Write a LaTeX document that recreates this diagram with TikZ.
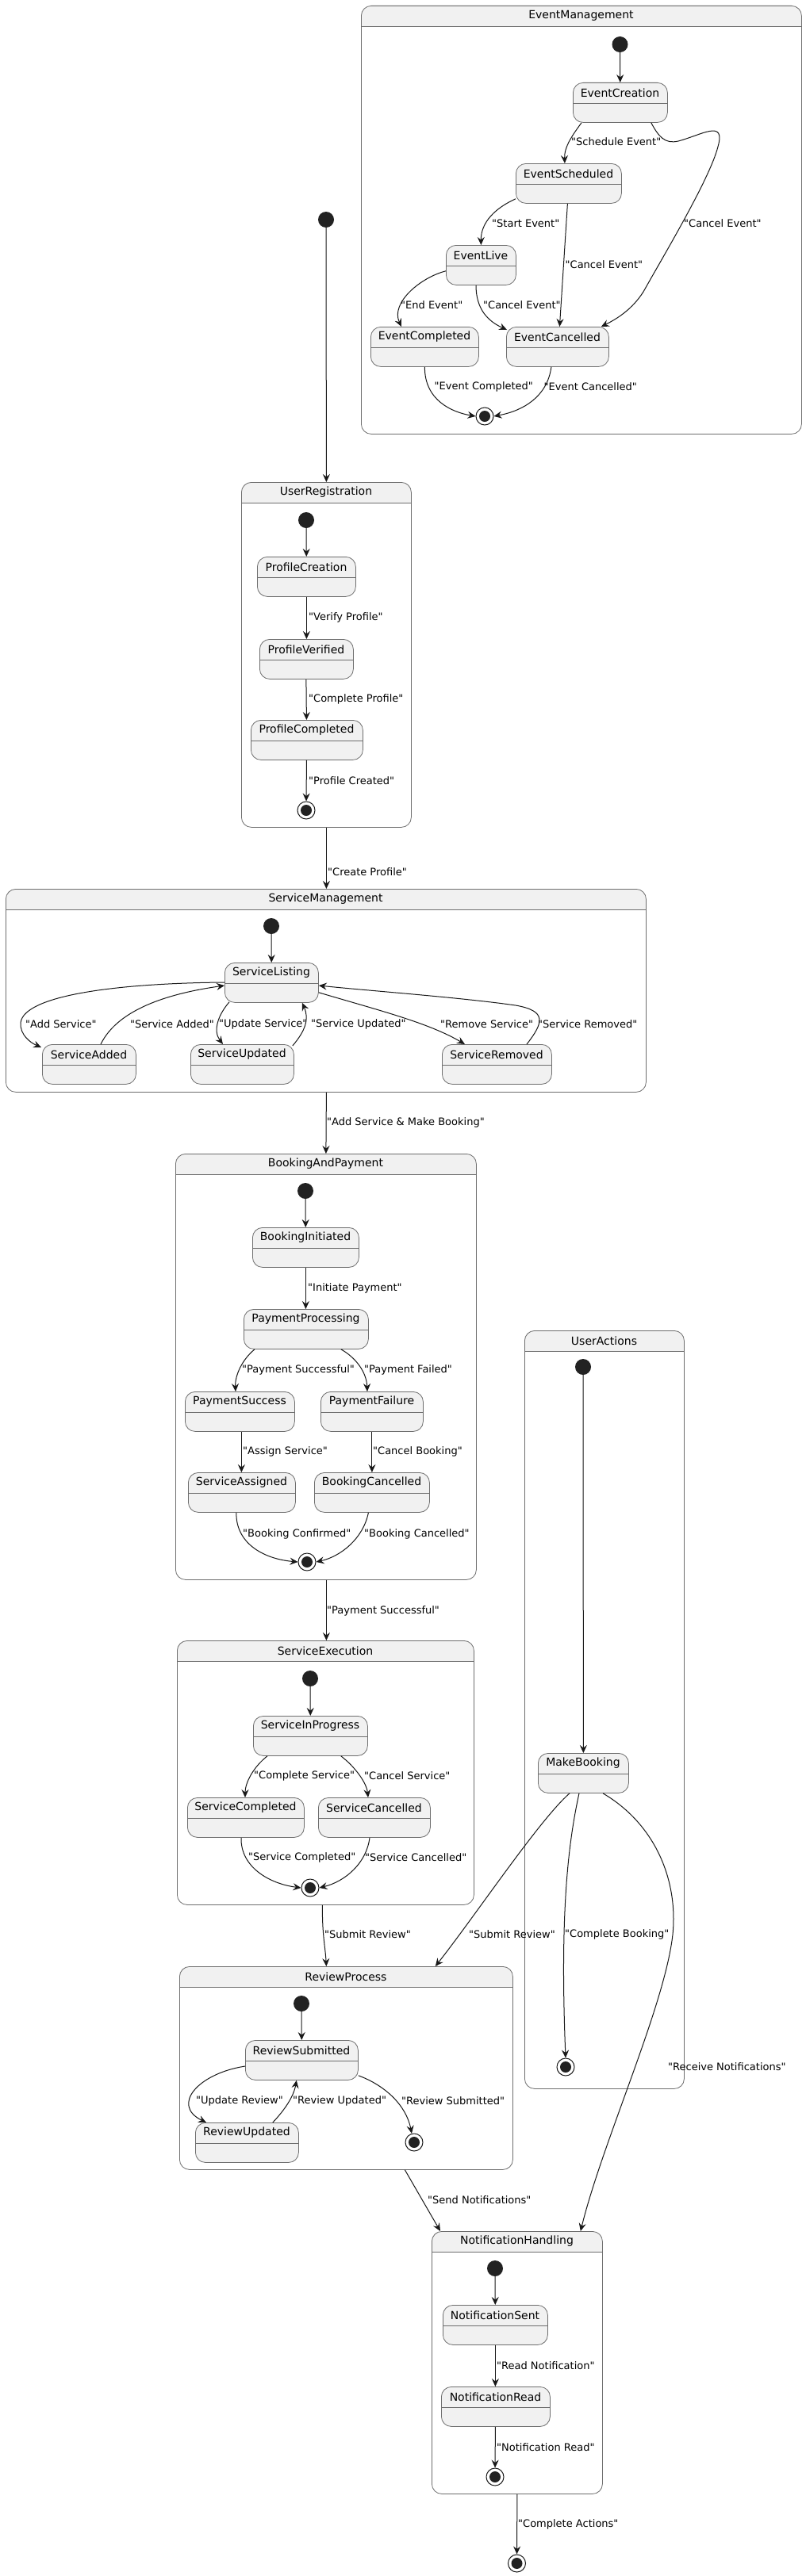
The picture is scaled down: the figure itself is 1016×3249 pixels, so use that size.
\documentclass[tikz,border=0pt]{standalone}
\usepackage{fontspec}
\newfontfamily\dv{DejaVu Sans}
\usetikzlibrary{arrows.meta}
\definecolor{arrc}{HTML}{181818}
\definecolor{bord}{HTML}{6E6E6E}
\definecolor{stfill}{HTML}{F1F1F1}
\definecolor{dotc}{HTML}{222222}
\tikzset{
 stbox/.style={draw=bord, fill=stfill, rounded corners=12.5pt, line width=0.8pt, inner sep=0pt, anchor=north west},
 compbox/.style={draw=bord, rounded corners=12.5pt, line width=0.8pt, inner sep=0pt, anchor=north west},
 divline/.style={draw=bord, line width=0.8pt},
 sttext/.style={font=\dv\fontsize{14}{16}\selectfont, inner sep=0pt},
 lbl/.style={font=\dv\fontsize{13}{15}\selectfont, anchor=west, inner sep=0pt},
 tr/.style={draw=arrc, line width=1pt, -{Stealth[length=10pt,width=9pt,inset=3.5pt]}},
 initdot/.style={circle, fill=dotc, minimum size=20pt, inner sep=0pt},
 finaldot/.style={circle, draw=arrc, fill=white, line width=1pt, minimum size=22pt, inner sep=0pt},
}
\newcommand\mystate[5]{%
 \node[stbox, minimum width={(#4)-(#2)}, minimum height=50] (#1) at (#2,#3) {};
 \draw[divline] (#2,#3+26) -- (#4,#3+26);
 \node[sttext] (#1-t) at ({((#2)+(#4))/2},#3+13) {#5};
}
\newcommand\mycomp[6]{%
 \fill[stfill, rounded corners=12.5pt] (#2,#3) rectangle (#4,#3+40);
 \fill[white] (#2-1,#3+26) rectangle (#4+1,#3+45);
 \node[compbox, minimum width={(#4)-(#2)}, minimum height={(#5)-(#3)}] (#1) at (#2,#3) {};
 \draw[divline] (#2,#3+26) -- (#4,#3+26);
 \node[sttext] (#1-t) at ({((#2)+(#4))/2},#3+13) {#6};
}
\newcommand\myfinal[3]{%
 \node[finaldot] (#1) at (#2,#3) {};
 \fill[dotc] (#1.center) circle (7pt);
}
\begin{document}
\begin{tikzpicture}[x=1pt,y=-1pt]
\useasboundingbox (0,0) rectangle (1016,3249);
\fill[white] (0,0) rectangle (1016,3249);

% ---------- composites ----------
\mycomp{EventManagement}{455}{7}{1010}{547}{EventManagement}
\mycomp{UserRegistration}{304}{608}{518}{1043}{UserRegistration}
\mycomp{ServiceManagement}{7}{1121}{814}{1377}{ServiceManagement}
\mycomp{BookingAndPayment}{221}{1455}{600}{1992}{BookingAndPayment}
\mycomp{UserActions}{661}{1678}{862}{2634}{UserActions}
\mycomp{ServiceExecution}{223}{2069}{597}{2402}{ServiceExecution}
\mycomp{ReviewProcess}{226}{2480}{646}{2736}{ReviewProcess}
\mycomp{NotificationHandling}{544}{2814}{759}{3145}{NotificationHandling}

% ---------- EventManagement ----------
\node[initdot] (EM-init) at (781.5,56) {};
\mystate{EventCreation}{722}{104}{841}{EventCreation}
\mystate{EventScheduled}{650}{206}{783}{EventScheduled}
\mystate{EventLive}{562}{309}{650}{EventLive}
\mystate{EventCompleted}{467}{412}{603}{EventCompleted}
\mystate{EventCancelled}{638}{412}{767}{EventCancelled}
\myfinal{EM-final}{611}{525}

\draw[tr] (EM-init) -- (EventCreation);
\draw[tr] ([xshift=11]EventCreation.south west) .. controls (722,170) and (711,185) .. ([xshift=-5]EventScheduled.north);
\draw[tr] ([xshift=-21]EventCreation.south east) .. controls (830,172) and (838,182) .. (855,178)
  .. controls (885,170) and (915,150) .. (905,185)
  .. controls (895,225) and (835,325) .. (811,368)
  .. controls (797,390) and (778,402) .. ([xshift=-10]EventCancelled.north east);
\draw[tr] ([yshift=6]EventScheduled.south west) .. controls (625,262) and (606,280) .. (EventLive.north);
\draw[tr] ([xshift=-1.5]EventScheduled.south) -- ([xshift=2.5]EventCancelled.north);
\draw[tr] ([yshift=18]EventLive.south west) .. controls (530,350) and (492,382) .. ([xshift=39]EventCompleted.north west);
\draw[tr] ([xshift=38]EventLive.south west) .. controls (600,390) and (615,405) .. ([xshift=1,yshift=-4]EventCancelled.north west);
\draw[tr] (EventCompleted.south) .. controls (535,505) and (570,520) .. (EM-final.west);
\draw[tr] ([xshift=-8]EventCancelled.south) .. controls (690,500) and (660,518) .. (EM-final.east);

\node[lbl] (l-em1) at (720,179) {"Schedule Event"};
\node[lbl] (l-em2) at (862,282) {"Cancel Event"};
\node[lbl] (l-em3) at (620,282) {"Start Event"};
\node[lbl] (l-em4) at (712.5,334) {"Cancel Event"};
\node[lbl] (l-em5) at (505,385) {"End Event"};
\node[lbl] (l-em6) at (609,385) {"Cancel Event"};
\node[lbl] (l-em7) at (547.5,488) {"Event Completed"};
\node[lbl] (l-em8) at (685.5,488) {"Event Cancelled"};

% ---------- top start ----------
\node[initdot] (top-init) at (411,277) {};
\draw[tr] (top-init) -- (UserRegistration.north);

% ---------- UserRegistration ----------
\node[initdot] (UR-init) at (386,656) {};
\mystate{ProfileCreation}{324}{702}{448}{ProfileCreation}
\mystate{ProfileVerified}{327}{806}{445}{ProfileVerified}
\mystate{ProfileCompleted}{316}{908}{457}{ProfileCompleted}
\myfinal{UR-final}{386}{1022}
\draw[tr] (UR-init) -- (ProfileCreation);
\draw[tr] (ProfileCreation) -- (ProfileVerified);
\draw[tr] ([xshift=-0.5]ProfileVerified.south) -- ([xshift=-0.5]ProfileCompleted.north);
\draw[tr] ([xshift=-0.5]ProfileCompleted.south) -- (UR-final);
\node[lbl] (l-ur1) at (389,779) {"Verify Profile"};
\node[lbl] (l-ur2) at (389,882) {"Complete Profile"};
\node[lbl] (l-ur3) at (389,985) {"Profile Created"};

\draw[tr] (UserRegistration.south) -- ([xshift=0.5]ServiceManagement.north);
\node[lbl] (l-cp) at (413,1100) {"Create Profile"};

% ---------- ServiceManagement ----------
\node[initdot] (SM-init) at (342,1168) {};
\mystate{ServiceListing}{283}{1214}{401}{ServiceListing}
\mystate{ServiceAdded}{53}{1317}{171}{ServiceAdded}
\mystate{ServiceUpdated}{240}{1317}{370}{ServiceUpdated}
\mystate{ServiceRemoved}{557}{1317}{695}{ServiceRemoved}
\draw[tr] (SM-init) -- (ServiceListing);
\draw[tr] ([yshift=-25]ServiceListing.north west) .. controls (150,1240) and (30,1255) .. (26,1290)
  .. controls (25,1305) and (38,1315) .. ([xshift=-1,yshift=-4]ServiceAdded.north west);
\draw[tr] ([xshift=74]ServiceAdded.north west) .. controls (150,1270) and (220,1252) .. ([yshift=-29]ServiceListing.north west);
\draw[tr] ([xshift=6,yshift=1]ServiceListing.south west) .. controls (275,1280) and (268,1300) .. ([xshift=41]ServiceUpdated.north west);
\draw[tr] ([xshift=-2,yshift=-2]ServiceUpdated.north east) .. controls (385,1300) and (390,1285) .. ([xshift=-21]ServiceListing.south east);
\draw[tr] ([yshift=13]ServiceListing.south east) .. controls (480,1275) and (540,1290) .. ([xshift=29]ServiceRemoved.north west);
\draw[tr] ([xshift=107]ServiceRemoved.north west) .. controls (685,1290) and (690,1275) .. (650,1268)
  .. controls (580,1258) and (470,1250) .. ([yshift=-29]ServiceListing.north east);
\node[lbl] (l-sm1) at (32,1292) {"Add Service"};
\node[lbl] (l-sm2) at (164,1292) {"Service Added"};
\node[lbl] (l-sm3) at (276,1292) {"Update Service"};
\node[lbl] (l-sm4) at (392,1292) {"Service Updated"};
\node[lbl] (l-sm5) at (555,1292) {"Remove Service"};
\node[lbl] (l-sm6) at (678,1292) {"Service Removed"};

\draw[tr] ([xshift=0.5]ServiceManagement.south) -- (BookingAndPayment.north);
\node[lbl] (l-asmb) at (412,1416) {"Add Service \& Make Booking"};

% ---------- BookingAndPayment ----------
\node[initdot] (BP-init) at (385,1502) {};
\mystate{BookingInitiated}{318}{1548}{452}{BookingInitiated}
\mystate{PaymentProcessing}{307}{1651}{464}{PaymentProcessing}
\mystate{PaymentSuccess}{233}{1755}{371}{PaymentSuccess}
\mystate{PaymentFailure}{404}{1755}{533}{PaymentFailure}
\mystate{ServiceAssigned}{237}{1857}{372}{ServiceAssigned}
\mystate{BookingCancelled}{396}{1857}{541}{BookingCancelled}
\myfinal{BP-final}{387}{1970}
\draw[tr] (BP-init) -- (BookingInitiated);
\draw[tr] (BookingInitiated.south) -- ([xshift=-0.5]PaymentProcessing.north);
\draw[tr] ([xshift=14]PaymentProcessing.south west) .. controls (305,1715) and (296,1735) .. ([xshift=64]PaymentSuccess.north west);
\draw[tr] ([xshift=-35]PaymentProcessing.south east) .. controls (448,1712) and (462,1730) .. ([xshift=59]PaymentFailure.north west);
\draw[tr] ([xshift=2]PaymentSuccess.south) -- ([xshift=-0.5]ServiceAssigned.north);
\draw[tr] (PaymentFailure.south) -- (BookingCancelled.north);
\draw[tr] ([xshift=-7]ServiceAssigned.south) .. controls (297,1945) and (330,1966) .. (BP-final.west);
\draw[tr] ([xshift=-4.5]BookingCancelled.south) .. controls (458,1940) and (430,1963) .. (BP-final.east);
\node[lbl] (l-bp1) at (388,1625) {"Initiate Payment"};
\node[lbl] (l-bp2) at (305,1728) {"Payment Successful"};
\node[lbl] (l-bp3) at (459,1728) {"Payment Failed"};
\node[lbl] (l-bp4) at (306,1831) {"Assign Service"};
\node[lbl] (l-bp5) at (470,1831) {"Cancel Booking"};
\node[lbl] (l-bp6) at (306,1934.5) {"Booking Confirmed"};
\node[lbl] (l-bp7) at (459,1934.5) {"Booking Cancelled"};

\draw[tr] ([xshift=0.5]BookingAndPayment.south) -- ([xshift=1]ServiceExecution.north);
\node[lbl] (l-ps) at (412,2032) {"Payment Successful"};

% ---------- ServiceExecution ----------
\node[initdot] (SE-init) at (391,2117) {};
\mystate{ServiceInProgress}{319}{2164}{463}{ServiceInProgress}
\mystate{ServiceCompleted}{236}{2267}{383}{ServiceCompleted}
\mystate{ServiceCancelled}{401}{2267}{542}{ServiceCancelled}
\myfinal{SE-final}{391}{2381}
\draw[tr] (SE-init) -- (ServiceInProgress);
\draw[tr] ([xshift=18]ServiceInProgress.south west) .. controls (320,2228) and (309,2248) .. ([xshift=73]ServiceCompleted.north west);
\draw[tr] ([xshift=-34]ServiceInProgress.south east) .. controls (447,2228) and (462,2248) .. ([xshift=63]ServiceCancelled.north west);
\draw[tr] ([xshift=68]ServiceCompleted.south west) .. controls (303,2355) and (340,2376) .. (SE-final.west);
\draw[tr] ([xshift=65]ServiceCancelled.south west) .. controls (462,2350) and (435,2373) .. (SE-final.east);
\node[lbl] (l-se1) at (320,2240) {"Complete Service"};
\node[lbl] (l-se2) at (459,2240) {"Cancel Service"};
\node[lbl] (l-se3) at (313,2343) {"Service Completed"};
\node[lbl] (l-se4) at (460,2343) {"Service Cancelled"};

\draw[tr] ([xshift=-4]ServiceExecution.south) .. controls (406,2440) and (410,2455) .. ([xshift=-25]ReviewProcess.north);
\node[lbl] (l-sr1) at (409,2440) {"Submit Review"};

% ---------- UserActions ----------
\node[initdot] (UA-init) at (735,1724) {};
\mystate{MakeBooking}{678}{2211}{792}{MakeBooking}
\myfinal{UA-final}{713}{2607}
\draw[tr] (UA-init) -- (MakeBooking);
\draw[tr] ([xshift=40]MakeBooking.south west) .. controls (680,2295) and (600,2415) .. ([xshift=-98]ReviewProcess.north east);
\draw[tr] ([xshift=52]MakeBooking.south west) .. controls (715,2330) and (706,2420) .. (UA-final.north);
\draw[tr] ([xshift=82]MakeBooking.south west) .. controls (825,2300) and (855,2370) .. (848,2440)
  .. controls (838,2530) and (760,2700) .. ([xshift=-28]NotificationHandling.north east);
\node[lbl] (l-sr2) at (591,2440) {"Submit Review"};
\node[lbl] (l-cb) at (712,2440) {"Complete Booking"};
\node[lbl] (l-rn) at (842,2607) {"Receive Notifications"};

% ---------- ReviewProcess ----------
\node[initdot] (RP-init) at (380,2527) {};
\mystate{ReviewSubmitted}{309}{2573}{451}{ReviewSubmitted}
\mystate{ReviewUpdated}{246}{2677}{376}{ReviewUpdated}
\myfinal{RP-final}{522}{2702}
\draw[tr] (RP-init) -- (ReviewSubmitted);
\draw[tr] ([yshift=-33]ReviewSubmitted.north west) .. controls (250,2615) and (215,2655) .. ([xshift=14]ReviewUpdated.north west);
\draw[tr] ([xshift=-33]ReviewUpdated.north east) .. controls (358,2662) and (370,2645) .. ([xshift=-78]ReviewSubmitted.south east);
\draw[tr] ([yshift=6]ReviewSubmitted.south east) .. controls (485,2630) and (512,2655) .. (RP-final.105);
\node[lbl] (l-rp1) at (247,2650) {"Update Review"};
\node[lbl] (l-rp2) at (369,2650) {"Review Updated"};
\node[lbl] (l-rp3) at (506,2650) {"Review Submitted"};

\draw[tr] ([xshift=74]ReviewProcess.south) -- ([xshift=11]NotificationHandling.north west);
\node[lbl] (l-sn) at (539,2775) {"Send Notifications"};

% ---------- NotificationHandling ----------
\node[initdot] (NH-init) at (624,2861) {};
\mystate{NotificationSent}{558}{2907}{690}{NotificationSent}
\mystate{NotificationRead}{556}{3010}{693}{NotificationRead}
\myfinal{NH-final}{624}{3124}
\draw[tr] (NH-init) -- (NotificationSent);
\draw[tr] (NotificationSent.south) -- ([xshift=-0.5]NotificationRead.north);
\draw[tr] ([xshift=-0.5]NotificationRead.south) -- (NH-final);
\node[lbl] (l-nh1) at (626,2984) {"Read Notification"};
\node[lbl] (l-nh2) at (626,3087) {"Notification Read"};

\myfinal{G-final}{651.5}{3233}
\draw[tr] (NotificationHandling.south) -- (G-final);
\node[lbl] (l-ca) at (653,3184) {"Complete Actions"};
\end{tikzpicture}
\end{document}
